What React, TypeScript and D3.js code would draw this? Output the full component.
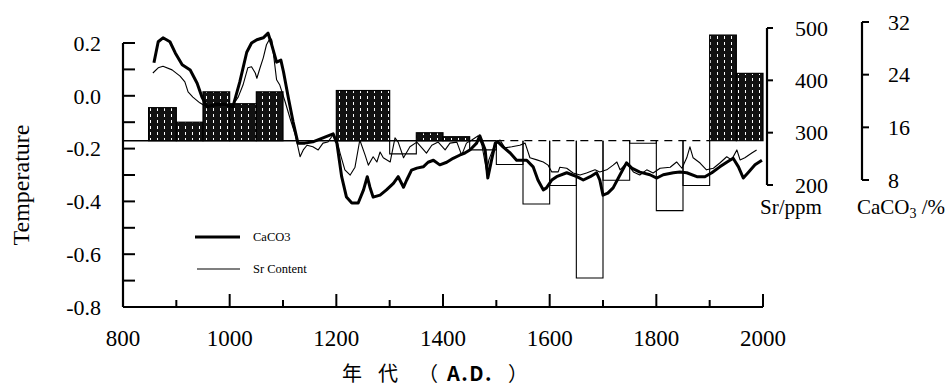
import React from 'react';
import * as d3 from 'd3';

// ---- data ----
const barFrom = [848, 900, 950, 1000, 1050, 1200, 1300, 1350, 1400, 1450, 1500, 1550, 1600, 1650, 1700, 1750, 1800, 1850, 1900, 1950];
const barTo = [900, 950, 1000, 1050, 1100, 1300, 1350, 1400, 1450, 1500, 1550, 1600, 1650, 1700, 1750, 1800, 1850, 1900, 1950, 2000];
const barTemp = [-0.045, -0.1, 0.015, -0.03, 0.015, 0.02, -0.22, -0.14, -0.155, -0.205, -0.26, -0.41, -0.34, -0.69, -0.32, -0.18, -0.435, -0.34, 0.23, 0.085];
const baseTemp = -0.17;

const caYears = [858, 866, 875, 888, 898, 911, 926, 939, 948, 958, 973, 991, 1006, 1019, 1032, 1041, 1051, 1063, 1072, 1079, 1088, 1096, 1101, 1110, 1119, 1128, 1141, 1156, 1175, 1194, 1201, 1210, 1219, 1229, 1241, 1251, 1258, 1263, 1269, 1282, 1294, 1307, 1316, 1326, 1332, 1341, 1351, 1363, 1372, 1382, 1394, 1407, 1419, 1432, 1441, 1451, 1463, 1469, 1479, 1484, 1491, 1498, 1503, 1513, 1526, 1538, 1557, 1569, 1578, 1588, 1594, 1604, 1613, 1632, 1651, 1663, 1676, 1688, 1694, 1700, 1709, 1719, 1732, 1744, 1754, 1769, 1788, 1801, 1813, 1832, 1844, 1857, 1876, 1891, 1904, 1919, 1932, 1944, 1954, 1963, 1972, 1985, 1998];
const caValues = [25.8, 29.0, 29.6, 29.0, 27.3, 25.5, 24.7, 22.7, 20.6, 19.1, 19.5, 19.5, 19.1, 22.9, 27.4, 28.8, 29.3, 29.6, 30.3, 28.5, 25.9, 26.2, 24.4, 20.5, 16.8, 13.6, 13.6, 13.8, 14.4, 15.0, 13.6, 8.5, 5.4, 4.5, 4.5, 6.5, 8.5, 6.9, 5.4, 5.7, 6.5, 7.5, 8.5, 6.9, 8.0, 9.5, 9.8, 10.0, 10.7, 11.0, 10.3, 10.7, 11.3, 11.8, 12.1, 12.6, 13.6, 14.7, 12.6, 8.3, 11.0, 13.6, 13.8, 13.0, 12.1, 11.0, 11.0, 10.0, 8.0, 6.5, 6.8, 8.0, 8.5, 9.1, 8.5, 8.0, 8.5, 9.1, 8.0, 5.7, 6.0, 6.8, 8.8, 10.6, 9.8, 9.2, 8.8, 8.3, 8.8, 9.1, 9.2, 9.1, 8.5, 8.5, 9.1, 10.0, 10.7, 11.3, 10.0, 8.3, 9.1, 10.3, 11.0];

const srYears = [856, 866, 875, 892, 907, 916, 922, 931, 944, 954, 973, 991, 1006, 1016, 1025, 1034, 1041, 1048, 1051, 1057, 1063, 1069, 1076, 1079, 1083, 1088, 1094, 1104, 1113, 1123, 1132, 1138, 1145, 1156, 1166, 1175, 1184, 1194, 1201, 1207, 1216, 1226, 1235, 1244, 1254, 1260, 1269, 1276, 1282, 1288, 1301, 1310, 1316, 1326, 1338, 1351, 1369, 1379, 1391, 1404, 1413, 1426, 1435, 1444, 1454, 1466, 1473, 1482, 1486, 1498, 1507, 1516, 1529, 1544, 1554, 1563, 1576, 1588, 1597, 1604, 1616, 1619, 1632, 1644, 1657, 1669, 1685, 1694, 1707, 1719, 1726, 1732, 1744, 1757, 1769, 1782, 1794, 1807, 1826, 1838, 1848, 1857, 1863, 1869, 1882, 1894, 1907, 1919, 1932, 1941, 1951, 1957, 1966, 1979, 1988];
const srValues = [414, 424, 427, 420, 408, 397, 378, 368, 357, 351, 351, 353, 353, 368, 391, 424, 426, 414, 404, 424, 443, 468, 481, 477, 443, 401, 391, 359, 328, 296, 254, 267, 276, 273, 267, 280, 282, 296, 286, 261, 229, 219, 234, 286, 257, 238, 254, 244, 263, 252, 244, 290, 282, 252, 273, 282, 261, 276, 282, 267, 280, 282, 257, 280, 286, 294, 276, 225, 248, 280, 286, 271, 273, 276, 280, 252, 248, 244, 238, 225, 225, 234, 232, 223, 219, 223, 229, 225, 229, 238, 244, 229, 242, 225, 219, 229, 223, 232, 234, 244, 232, 252, 273, 252, 242, 229, 232, 242, 254, 248, 267, 248, 252, 261, 267];

const tempTicks = [0.2, 0.0, -0.2, -0.4, -0.6, -0.8];
const tempTickLabels = ['0.2', '0.0', '-0.2', '-0.4', '-0.6', '-0.8'];
const tempMinorTicks = [0.1, -0.1, -0.3, -0.5, -0.7];
const yearTicks = [800, 1000, 1200, 1400, 1600, 1800, 2000];
const yearMajorMarks = [1000, 1200, 1400, 1600, 1800, 2000];
const yearMinorMarks = [900, 1100, 1300, 1500, 1700, 1900];
const srTicks = [500, 400, 300, 200];
const caTicks = [32, 24, 16, 8];

const SERIF = '"Liberation Serif", "Times New Roman", serif';
const CJK = '"Noto Sans CJK SC", "Noto Sans", sans-serif';

export default function App() {
  const x = d3.scaleLinear().domain([800, 2000]).range([123, 763]);
  const yT = d3.scaleLinear().domain([-0.8, 0.2]).range([307, 43]);
  const ySr = d3.scaleLinear().domain([200, 500]).range([185, 28]);
  const yCa = d3.scaleLinear().domain([8, 32]).range([180, 22]);

  const y0 = yT(baseTemp);
  const caLine = d3.line<number>().x((_, i) => x(caYears[i])).y((d) => yCa(d));
  const srLine = d3.line<number>().x((_, i) => x(srYears[i])).y((d) => ySr(d));

  const srAxisX = 767;
  const caAxisX = 862;

  return (
    <svg width={951} height={389} style={{ position: 'absolute', left: 0, top: 0, background: '#fff' }}>
      <defs>
        <pattern id="hatch" width={7} height={6} patternUnits="userSpaceOnUse">
          <rect width={7} height={6} fill="#111" />
          <rect x={3} y={0} width={1} height={3} fill="#fff" />
        </pattern>
      </defs>
      <rect width={951} height={389} fill="#fff" />

      {/* bars */}
      {barTemp.map((v, i) => {
        const x1 = x(barFrom[i]);
        const x2 = x(barTo[i]);
        const yv = yT(v);
        if (v >= baseTemp) {
          return <rect key={i} x={x1} y={yv} width={x2 - x1} height={y0 - yv} fill="url(#hatch)" stroke="#000" strokeWidth={1.2} />;
        }
        return (
          <path key={i} d={`M${x1},${y0}V${yv}H${x2}V${y0}`} fill="none" stroke="#000" strokeWidth={1.1} />
        );
      })}

      {/* baseline */}
      <line x1={x(800)} x2={x(1500)} y1={y0} y2={y0} stroke="#000" strokeWidth={1.5} />
      <line x1={x(1500)} x2={x(1900)} y1={y0} y2={y0} stroke="#000" strokeWidth={1.3} strokeDasharray="8,6" />

      {/* series lines */}
      <path d={srLine(srValues) || ''} fill="none" stroke="#000" strokeWidth={1.1} strokeLinejoin="round" />
      <path d={caLine(caValues) || ''} fill="none" stroke="#000" strokeWidth={3} strokeLinejoin="round" />

      {/* left axis */}
      <line x1={123} x2={123} y1={yT(0.2)} y2={yT(-0.8)} stroke="#000" strokeWidth={2.2} />
      {tempTicks.concat(tempMinorTicks).map((t) => (
        <line key={'tt' + t} x1={123} x2={135} y1={yT(t)} y2={yT(t)} stroke="#000" strokeWidth={2} />
      ))}
      {tempTicks.map((t, i) => (
        <text key={'tl' + t} x={101} y={yT(t)} dy="0.35em" textAnchor="end" fontFamily={SERIF} fontSize={22} fill="#000">
          {tempTickLabels[i]}
        </text>
      ))}

      {/* bottom axis */}
      <line x1={123} x2={763} y1={307} y2={307} stroke="#000" strokeWidth={2.2} />
      {yearMajorMarks.map((t) => (
        <line key={'ym' + t} x1={x(t)} x2={x(t)} y1={307} y2={294} stroke="#000" strokeWidth={2} />
      ))}
      {yearMinorMarks.map((t) => (
        <line key={'yn' + t} x1={x(t)} x2={x(t)} y1={307} y2={300} stroke="#000" strokeWidth={2} />
      ))}
      {yearTicks.map((t) => (
        <text key={'yl' + t} x={x(t)} y={346} textAnchor="middle" fontFamily={SERIF} fontSize={23} fill="#000">
          {t}
        </text>
      ))}

      {/* Sr axis */}
      <line x1={srAxisX} x2={srAxisX} y1={ySr(500)} y2={ySr(200)} stroke="#000" strokeWidth={2.2} />
      {srTicks.map((t) => (
        <line key={'st' + t} x1={srAxisX} x2={srAxisX + 6} y1={ySr(t)} y2={ySr(t)} stroke="#000" strokeWidth={2} />
      ))}
      {srTicks.map((t) => (
        <text key={'sl' + t} x={795} y={ySr(t)} dy="0.35em" fontFamily={SERIF} fontSize={22} fill="#000">
          {t}
        </text>
      ))}
      <text x={760} y={214} fontFamily={SERIF} fontSize={21} fill="#000">Sr/ppm</text>

      {/* CaCO3 axis */}
      <line x1={caAxisX} x2={caAxisX} y1={yCa(32)} y2={yCa(8)} stroke="#000" strokeWidth={2.2} />
      {caTicks.map((t) => (
        <line key={'ct' + t} x1={caAxisX} x2={caAxisX + 7} y1={yCa(t)} y2={yCa(t)} stroke="#000" strokeWidth={2} />
      ))}
      {caTicks.map((t) => (
        <text key={'cl' + t} x={888} y={yCa(t)} dy="0.35em" fontFamily={SERIF} fontSize={22} fill="#000">
          {t}
        </text>
      ))}
      <text x={857} y={214} fontFamily={SERIF} fontSize={21} fill="#000">
        CaCO<tspan dy={4} fontSize={14}>3</tspan><tspan dy={-4}> /%</tspan>
      </text>

      {/* legend */}
      <line x1={195} x2={240} y1={237} y2={237} stroke="#000" strokeWidth={3} />
      <text x={253} y={237} dy="0.35em" fontFamily={SERIF} fontSize={12.5} fill="#000">CaCO3</text>
      <line x1={197} x2={240} y1={269} y2={269} stroke="#000" strokeWidth={1.1} />
      <text x={253} y={269} dy="0.35em" fontFamily={SERIF} fontSize={12.5} fill="#000">Sr Content</text>

      {/* axis titles */}
      <text transform="translate(29,185) rotate(-90)" textAnchor="middle" fontFamily={SERIF} fontSize={24} fill="#000">
        Temperature
      </text>
      <text y={381} fontFamily={CJK} fontSize={20} fill="#000">
        <tspan x={342}>年</tspan>
        <tspan x={378}>代</tspan>
        <tspan x={418}>（</tspan>
        <tspan x={447} fontWeight="bold" letterSpacing={1.5}>A.D.</tspan>
        <tspan x={508}>）</tspan>
      </text>
    </svg>
  );
}
